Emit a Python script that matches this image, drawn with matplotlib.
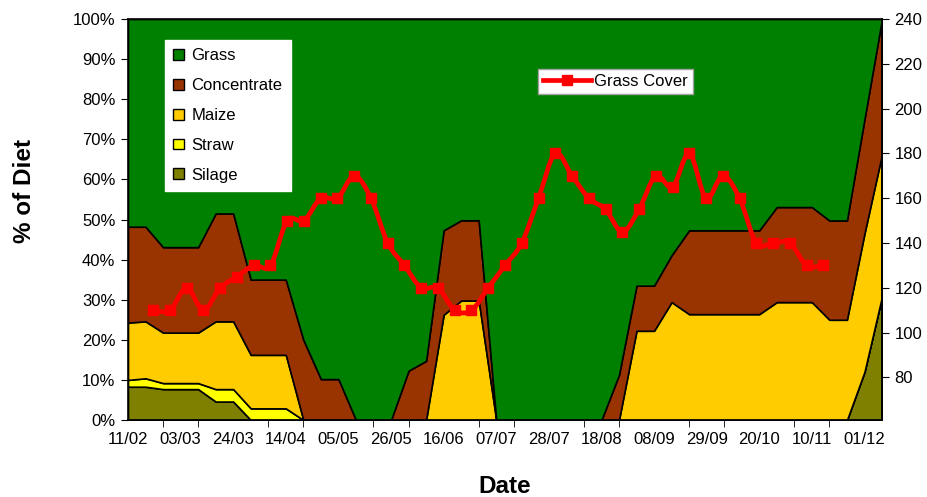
import numpy as np
import matplotlib
matplotlib.use("Agg")
import matplotlib.pyplot as plt
from matplotlib.path import Path
from matplotlib.patches import PathPatch, Patch
from matplotlib.lines import Line2D

plt.rcParams['font.family'] = ['Liberation Sans', 'DejaVu Sans']

# weekly diet make-up (% of diet), 11/02 .. 08/12
weeks = np.arange(44)
silage = [8.3, 8.3, 7.7, 7.7, 7.7, 4.6, 4.6] + [0] * 35 + [12, 30.8]
straw = [1.7, 2.1, 1.5, 1.5, 1.5, 3.1, 3.1, 2.9, 2.9, 2.9] + [0] * 34
maize = ([14.3, 14.2, 12.6, 12.6, 12.6, 16.9, 16.9, 13.35, 13.35, 13.35]
         + [0] * 8 + [26.25, 29.8, 29.8] + [0] * 8
         + [22.25, 22.25, 29.4, 26.4, 26.4, 26.4, 26.4, 26.4,
            29.4, 29.4, 29.4, 25, 25, 34.5, 35.45])
concentrate = ([23.9, 23.6, 21.3, 21.3, 21.3, 26.9, 26.9, 18.75, 18.75, 18.75,
                20, 10.2, 10.2, 0, 0, 0, 12.3, 14.75, 21.05, 20, 20]
               + [0] * 7
               + [11.25, 11.25, 11.25, 11.7, 20.9, 20.9, 20.9, 20.9, 20.9,
                  23.7, 23.7, 23.7, 24.75, 24.75, 28.5, 33.75])
grass = 100 - (np.array(silage) + np.array(straw) + np.array(maize)
               + np.array(concentrate))

# tick labels every third week
date_labels = ['11/02', '03/03', '24/03', '14/04', '05/05', '26/05', '16/06',
               '07/07', '28/07', '18/08', '08/09', '29/09', '20/10', '10/11',
               '01/12']

# grass cover series (own category axis of 45 slots, values in slots 1..41)
cover_slots = np.arange(1, 42)
grass_cover = [110, 110, 120, 110, 120, 125, 130, 130, 150, 150,
               160, 160, 170, 160, 140, 130, 120, 120, 110, 110,
               120, 130, 140, 160, 180, 170, 160, 155, 145, 155,
               170, 165, 180, 160, 170, 160, 140, 140, 140, 130, 130]

colors = ['#808000', '#FFFF00', '#FFCC00', '#993300', '#008000']
names = ['Silage', 'Straw', 'Maize', 'Concentrate', 'Grass']

FS = 12


def smooth_path(x, y):
    """Catmull-Rom style bezier through the points"""
    pts = np.column_stack([x, y]).astype(float)
    verts = [pts[0]]
    codes = [Path.MOVETO]
    n = len(pts)
    for i in range(n - 1):
        p0 = pts[i - 1] if i > 0 else pts[i]
        p1 = pts[i]
        p2 = pts[i + 1]
        p3 = pts[i + 2] if i + 2 < n else pts[i + 1]
        verts += [p1 + (p2 - p0) / 6, p2 - (p3 - p1) / 6, p2]
        codes += [Path.CURVE4] * 3
    return Path(verts, codes)


fig = plt.figure(figsize=(9.28, 4.97), dpi=100)
pos = [128 / 928, 1 - 420 / 497, (882 - 128) / 928, (420 - 19) / 497]
ax = fig.add_axes(pos)

ax.stackplot(weeks, silage, straw, maize, concentrate, grass,
             colors=colors, edgecolor='black', linewidth=1.2)
ax.set_xlim(0, 43)
ax.set_ylim(0, 100)
ax.set_yticks(np.arange(0, 101, 10))
ax.set_yticklabels(['%d%%' % v for v in range(0, 101, 10)], fontsize=FS)
ax.set_xticks(np.arange(0, 43, 3))
ax.set_xticklabels(date_labels, fontsize=FS)
ax.set_xticks(np.arange(0, 43, 2), minor=True)
ax.tick_params(axis='x', which='major', length=0, pad=9)
ax.tick_params(axis='x', which='minor', length=5, direction='out')
ax.tick_params(axis='y', length=5, direction='out', pad=4)
ax.set_xlabel('Date', fontsize=17.5, fontweight='bold', labelpad=20)
ax.set_ylabel('% of Diet', fontsize=17.5, fontweight='bold')
ax.yaxis.set_label_coords(-0.122, 0.571)
for s in ax.spines.values():
    s.set_linewidth(1.2)

# grass cover on the right-hand axis
ax2 = fig.add_axes(pos)
ax2.patch.set_visible(False)
ax2.set_xlim(-0.5, 44.5)
ax2.set_ylim(61, 240)
ax2.xaxis.set_visible(False)
ax2.yaxis.tick_right()
ax2.set_yticks(np.arange(80, 241, 20))
ax2.tick_params(axis='y', length=5, direction='out', labelsize=FS, pad=4)
for s in ['top', 'left', 'bottom']:
    ax2.spines[s].set_visible(False)
ax2.spines['right'].set_linewidth(1.2)
ax2.add_patch(PathPatch(smooth_path(cover_slots, grass_cover), fill=False,
                        edgecolor='#FF0000', linewidth=3.4, capstyle='round',
                        joinstyle='round'))
ax2.plot(cover_slots, grass_cover, 's', color='#FF0000', markersize=6.8)

handles = [Patch(facecolor=c, edgecolor='black', linewidth=1)
           for c in colors][::-1]
leg1 = fig.legend(handles, names[::-1], loc='upper left',
                  bbox_to_anchor=(165 / 928, 1 - 40 / 497),
                  frameon=True, fancybox=False, framealpha=1,
                  edgecolor='white', fontsize=FS, labelspacing=0.89,
                  handlelength=0.62, handleheight=0.62, handletextpad=0.45,
                  borderpad=0.5, borderaxespad=0)

line_handle = Line2D([], [], color='#FF0000', linewidth=3.4, marker='s',
                     markersize=6.8)
leg2 = fig.legend([line_handle], ['Grass Cover'], loc='upper left',
                  bbox_to_anchor=(538 / 928, 1 - 69 / 497),
                  frameon=True, fancybox=False, framealpha=1,
                  edgecolor='#A0A0A0', fontsize=FS, handlelength=2.9,
                  handletextpad=0.15, borderpad=0.3, borderaxespad=0)

fig.savefig('out.png', dpi=100)
